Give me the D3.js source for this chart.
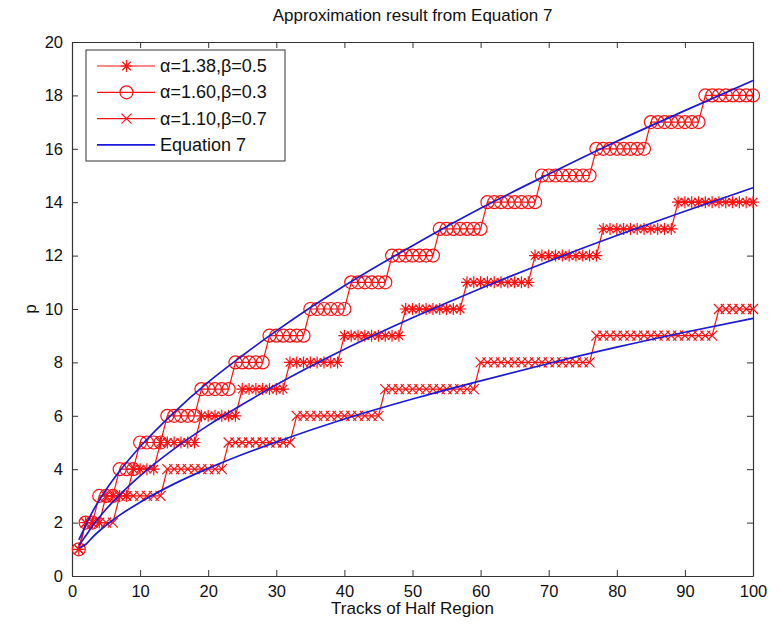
<!DOCTYPE html>
<html>
<head>
<meta charset="utf-8">
<script src="https://cdn.jsdelivr.net/npm/d3@7"></script>
<style>
  body { margin: 0; background: #fff; }
  svg text { font-family: "Liberation Sans", Arial, sans-serif; fill: #111; }
</style>
</head>
<body>
<div id="chart"></div>
<script>
// tracks 1..100
const tracks = d3.range(1, 101);

// step series (p per track)
const pA138 = [
  1,2,2,2,3,3,3,3,4,4,
  4,4,5,5,5,5,5,5,6,6,
  6,6,6,6,7,7,7,7,7,7,
  7,8,8,8,8,8,8,8,8,9,
  9,9,9,9,9,9,9,9,10,10,
  10,10,10,10,10,10,10,11,11,11,
  11,11,11,11,11,11,11,12,12,12,
  12,12,12,12,12,12,12,13,13,13,
  13,13,13,13,13,13,13,13,14,14,
  14,14,14,14,14,14,14,14,14,14
];
const pA160 = [
  1,2,2,3,3,3,4,4,4,5,
  5,5,5,6,6,6,6,6,7,7,
  7,7,7,8,8,8,8,8,9,9,
  9,9,9,9,10,10,10,10,10,10,
  11,11,11,11,11,11,12,12,12,12,
  12,12,12,13,13,13,13,13,13,13,
  14,14,14,14,14,14,14,14,15,15,
  15,15,15,15,15,15,16,16,16,16,
  16,16,16,16,17,17,17,17,17,17,
  17,17,18,18,18,18,18,18,18,18
];
const pA110 = [
  1,2,2,2,2,2,3,3,3,3,
  3,3,3,4,4,4,4,4,4,4,
  4,4,5,5,5,5,5,5,5,5,
  5,5,6,6,6,6,6,6,6,6,
  6,6,6,6,6,7,7,7,7,7,
  7,7,7,7,7,7,7,7,7,8,
  8,8,8,8,8,8,8,8,8,8,
  8,8,8,8,8,8,9,9,9,9,
  9,9,9,9,9,9,9,9,9,9,
  9,9,9,9,10,10,10,10,10,10
];

// Equation 7 curves
const eqX   = [1, 2, 3, 5, 7, 10, 15, 20, 25, 30, 40, 50, 60, 70, 80, 90, 100];
const eqTop = [1.35, 1.89, 2.40, 3.23, 3.93, 4.84, 6.13, 7.26, 8.25, 9.18, 10.87, 12.37, 13.77, 15.05, 16.28, 17.43, 18.56];
const eqMid = [1.15, 1.50, 1.87, 2.50, 3.04, 3.75, 4.76, 5.64, 6.42, 7.16, 8.49, 9.67, 10.77, 11.79, 12.75, 13.66, 14.54];
const eqBot = [1.05, 1.18, 1.45, 1.90, 2.28, 2.76, 3.45, 4.03, 4.55, 5.02, 5.88, 6.63, 7.31, 7.96, 8.57, 9.13, 9.65];

const legendLabels = ['\u03b1=1.38,\u03b2=0.5', '\u03b1=1.60,\u03b2=0.3', '\u03b1=1.10,\u03b2=0.7', 'Equation 7'];

const width = 780, height = 628;
const margin = { top: 42, right: 27, bottom: 52, left: 72 };
const red = '#ff1010', blue = '#1a1ad8';

let svg = d3.select('#chart').append('svg')
  .attr('width', width)
  .attr('height', height);

let x = d3.scaleLinear().domain([0, 100]).range([margin.left, width - margin.right]);
let y = d3.scaleLinear().domain([0, 20]).range([height - margin.bottom, margin.top]);

// axes box + inward ticks on all sides
const tickLen = 6;
svg.append('g')
  .attr('transform', `translate(0,${y(0)})`)
  .call(d3.axisBottom(x).ticks(10).tickSizeInner(-tickLen).tickSizeOuter(0).tickPadding(9));
svg.append('g')
  .attr('transform', `translate(${x(0)},0)`)
  .call(d3.axisLeft(y).ticks(10).tickSizeInner(-tickLen).tickSizeOuter(0).tickPadding(9));
svg.append('g')
  .attr('transform', `translate(0,${y(20)})`)
  .call(d3.axisTop(x).ticks(10).tickSizeInner(-tickLen).tickSizeOuter(0).tickFormat(''));
svg.append('g')
  .attr('transform', `translate(${x(100)},0)`)
  .call(d3.axisRight(y).ticks(10).tickSizeInner(-tickLen).tickSizeOuter(0).tickFormat(''));

svg.selectAll('.domain').attr('stroke', '#333').attr('stroke-width', 1.2);
svg.selectAll('.tick line').attr('stroke', '#333');
svg.selectAll('.tick text').style('font-size', '16.5px').attr('fill', '#111');

// titles
svg.append('text')
  .attr('x', (x(0) + x(100)) / 2).attr('y', 21)
  .attr('text-anchor', 'middle').style('font-size', '17px')
  .text('Approximation result from Equation 7');
svg.append('text')
  .attr('x', (x(0) + x(100)) / 2).attr('y', 614)
  .attr('text-anchor', 'middle').style('font-size', '17px')
  .text('Tracks of Half Region');
svg.append('text')
  .attr('transform', `translate(36,${(y(0) + y(20)) / 2}) rotate(-90)`)
  .attr('text-anchor', 'middle').style('font-size', '17px')
  .text('p');

// marker shapes
const starPath = (r) => {
  let d = '';
  for (let i = 0; i < 4; i++) {
    let a = i * Math.PI / 4;
    let dx = r * Math.cos(a), dy = r * Math.sin(a);
    d += `M${-dx},${-dy}L${dx},${dy}`;
  }
  return d;
};
const crossPath = (r) => `M${-r},${-r}L${r},${r}M${-r},${r}L${r},${-r}`;

function drawMarker(g, kind) {
  if (kind === 'circle') {
    g.append('circle').attr('r', 6.5).attr('fill', 'none').attr('stroke', red).attr('stroke-width', 1.2);
  } else if (kind === 'star') {
    g.append('path').attr('d', starPath(6)).attr('stroke', red).attr('stroke-width', 1.2);
  } else {
    g.append('path').attr('d', crossPath(5)).attr('stroke', red).attr('stroke-width', 1.2);
  }
}

let stepLine = d3.line().x((d, i) => x(tracks[i])).y(d => y(d));
let plot = svg.append('g');

const steps = [
  { values: pA138, kind: 'star' },
  { values: pA160, kind: 'circle' },
  { values: pA110, kind: 'cross' }
];

steps.forEach(s => {
  plot.append('path')
    .attr('d', stepLine(s.values))
    .attr('fill', 'none').attr('stroke', red).attr('stroke-width', 1.2);
  plot.selectAll(null)
    .data(s.values)
    .enter().append('g')
    .attr('transform', (d, i) => `translate(${x(tracks[i])},${y(d)})`)
    .each(function () { drawMarker(d3.select(this), s.kind); });
});

let curve = d3.line().x((d, i) => x(eqX[i])).y(d => y(d)).curve(d3.curveMonotoneX);
[eqTop, eqMid, eqBot].forEach(c => {
  plot.append('path')
    .attr('d', curve(c))
    .attr('fill', 'none').attr('stroke', blue).attr('stroke-width', 1.7);
});

// legend
let legend = svg.append('g');
legend.append('rect')
  .attr('x', 86).attr('y', 50).attr('width', 199).attr('height', 111)
  .attr('fill', '#fff').attr('stroke', '#333').attr('stroke-width', 1);

const legendKinds = ['star', 'circle', 'cross', null];
legendLabels.forEach((label, i) => {
  let row = legend.append('g').attr('transform', `translate(0,${66 + i * 26.3})`);
  row.append('line')
    .attr('x1', 97).attr('x2', 155)
    .attr('stroke', legendKinds[i] ? red : blue)
    .attr('stroke-width', legendKinds[i] ? 1.2 : 1.7);
  if (legendKinds[i]) {
    drawMarker(row.append('g').attr('transform', 'translate(126.5,0)'), legendKinds[i]);
  }
  row.append('text')
    .attr('x', 160).attr('y', 6)
    .style('font-size', '18px')
    .text(label);
});
</script>
</body>
</html>
